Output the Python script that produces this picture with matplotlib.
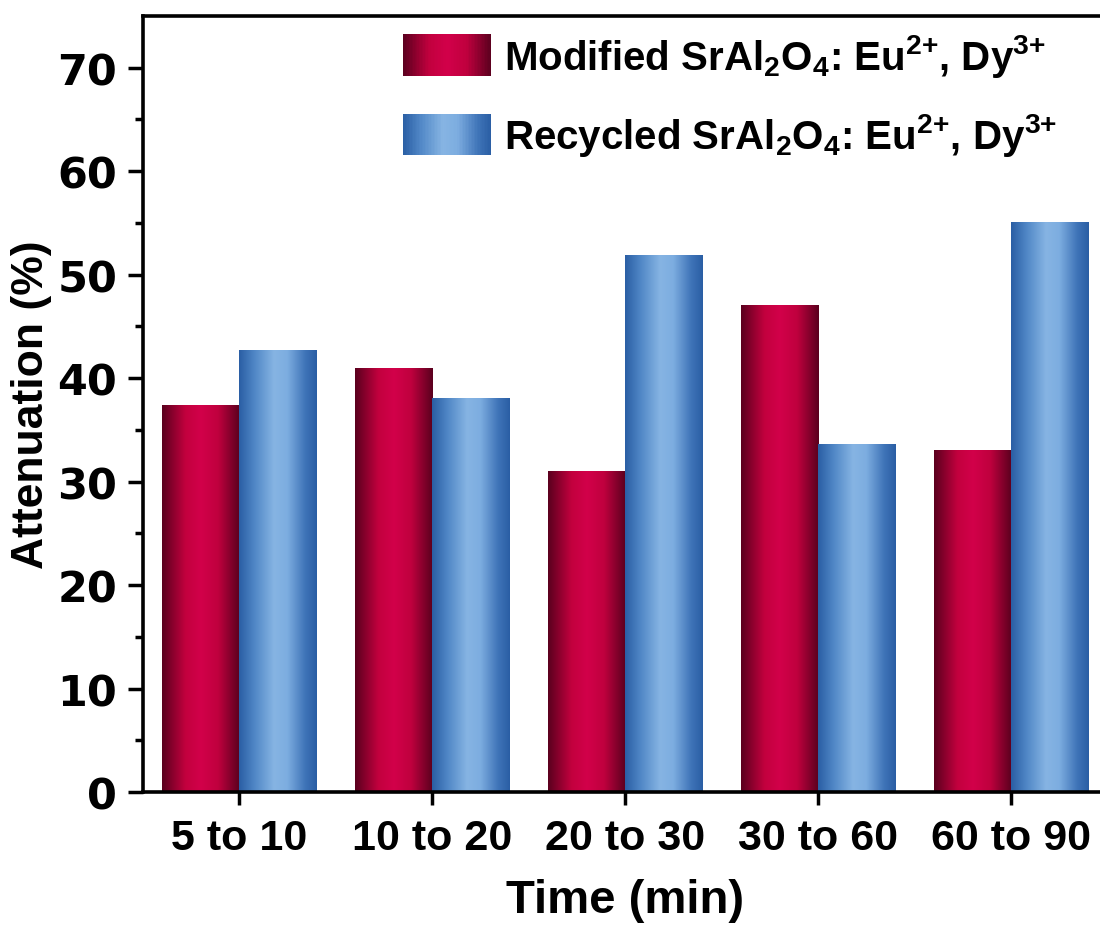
import numpy as np
import matplotlib
matplotlib.use("Agg")
import matplotlib.pyplot as plt
from matplotlib.colors import LinearSegmentedColormap
from matplotlib.legend_handler import HandlerBase
from matplotlib.patches import Rectangle, Patch

plt.rcParams['font.family'] = ['Liberation Sans', 'DejaVu Sans']
plt.rcParams['font.weight'] = 'bold'
plt.rcParams['mathtext.fontset'] = 'custom'
plt.rcParams['mathtext.rm'] = 'Liberation Sans:bold'
plt.rcParams['mathtext.bf'] = 'Liberation Sans:bold'
plt.rcParams['mathtext.it'] = 'Liberation Sans:bold'
plt.rcParams['mathtext.default'] = 'bf'

# Data
periods = ['5 to 10', '10 to 20', '20 to 30', '30 to 60', '60 to 90']
modified = [37.4, 40.9, 31.0, 47.0, 33.0]
recycled = [42.7, 38.0, 51.9, 33.6, 55.0]
labels = [r'Modified SrAl$_2$O$_4$: Eu$^{2{+}}$, Dy$^{3{+}}$',
          r'Recycled SrAl$_2$O$_4$: Eu$^{2{+}}$, Dy$^{3{+}}$']

# Cylinder-like shading across each bar
red_cmap = LinearSegmentedColormap.from_list('red_cyl', [
    (0.0, '#5a001e'), (0.3, '#c2003e'), (0.5, '#d2004a'),
    (0.72, '#c0003e'), (1.0, '#5a001e')])
blue_cmap = LinearSegmentedColormap.from_list('blue_cyl', [
    (0.0, '#2a5ea4'), (0.2, '#5087c6'), (0.45, '#86b4e3'),
    (0.62, '#7dade0'), (0.85, '#3f74b8'), (1.0, '#2a5ea4')])

grad = np.linspace(0, 1, 256).reshape(1, -1)


def shade_bars(ax, bars, cmap):
    for b in bars:
        x0, w, h = b.get_x(), b.get_width(), b.get_height()
        ax.imshow(grad, cmap=cmap, extent=[x0, x0 + w, 0, h],
                  aspect='auto', interpolation='bicubic', zorder=2)


class GradientHandler(HandlerBase):
    def __init__(self, cmap, n=60):
        super().__init__()
        self.cmap = cmap
        self.n = n

    def create_artists(self, legend, orig_handle, xdescent, ydescent,
                       width, height, fontsize, trans):
        arts = []
        step = width / self.n
        for i in range(self.n):
            r = Rectangle((-xdescent + i * step, -ydescent), step * 1.05, height,
                          facecolor=self.cmap((i + 0.5) / self.n),
                          edgecolor='none', transform=trans)
            arts.append(r)
        return arts


fig = plt.figure(figsize=(11, 9.29), dpi=100)
ax = fig.add_axes([0.130, 0.1464, 0.877, 0.8353])

x = np.arange(len(periods))
w = 0.4
bars_m = ax.bar(x - w / 2, modified, w, color='none', edgecolor='none')
bars_r = ax.bar(x + w / 2, recycled, w, color='none', edgecolor='none')
shade_bars(ax, bars_m, red_cmap)
shade_bars(ax, bars_r, blue_cmap)

ax.set_xlim(-0.5, 4.5)
ax.set_ylim(0, 75)
ax.set_xticks(x)
ax.set_xticklabels(periods, fontsize=31, fontweight='bold')
ax.set_yticks(np.arange(0, 71, 10))
ax.set_yticks(np.arange(5, 71, 10), minor=True)
ax.tick_params(axis='y', labelsize=31, width=2.5, length=10.5, direction='out', pad=8)
ax.tick_params(axis='y', which='minor', width=2.5, length=6)
ax.tick_params(axis='x', width=2.5, length=9, direction='out', pad=10)
for lab in ax.get_yticklabels():
    lab.set_fontweight('bold')
    lab.set_family('DejaVu Sans')

for side in ['left', 'bottom', 'top']:
    ax.spines[side].set_linewidth(2.6)
ax.spines['right'].set_visible(False)

ax.set_xlabel('Time (min)', fontsize=34, fontweight='bold', labelpad=14)
ax.set_ylabel('Attenuation (%)', fontsize=32, fontweight='bold', labelpad=4)

h1 = Patch(label=labels[0])
h2 = Patch(label=labels[1])
ax.legend([h1, h2], labels, loc='upper left', bbox_to_anchor=(0.24, 1.016),
          frameon=False, fontsize=29, handlelength=2.2, handleheight=1.22,
          handletextpad=0.32, labelspacing=0.8, borderaxespad=0.3,
          handler_map={h1: GradientHandler(red_cmap), h2: GradientHandler(blue_cmap)})

fig.savefig('out.png', dpi=100)
